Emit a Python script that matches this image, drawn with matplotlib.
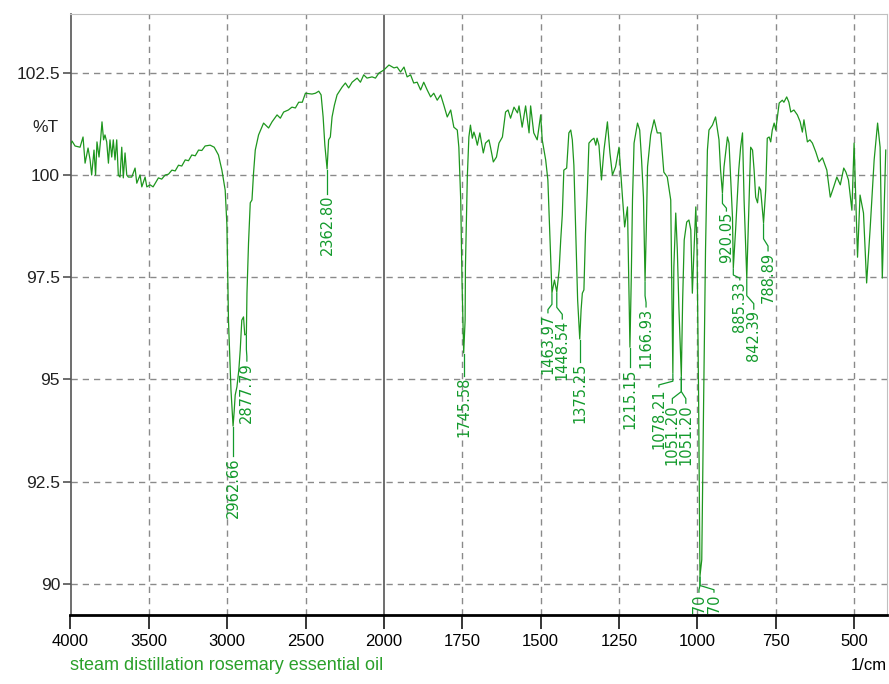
import numpy as np
import matplotlib
matplotlib.use("Agg")
import matplotlib.pyplot as plt
from matplotlib import font_manager
from matplotlib.font_manager import FontProperties
from matplotlib.transforms import IdentityTransform

# ---------------- data ----------------
wavenumber = [
    4000, 3990, 3971, 3939, 3920, 3907, 3888, 3875, 3865, 3850, 3840, 3831, 3818, 3808, 3799,
    3789, 3780, 3769, 3758, 3748, 3737, 3727, 3716, 3705, 3695, 3684, 3673, 3663, 3652, 3641,
    3631, 3609, 3588, 3577, 3556, 3545, 3524, 3513, 3492, 3473, 3439, 3418, 3396, 3375, 3353,
    3332, 3311, 3290, 3268, 3247, 3226, 3204, 3183, 3162, 3141, 3109, 3083, 3056, 3034, 3013,
    3002, 2992, 2976, 2962.66, 2956, 2949, 2938,
    2926, 2917, 2907, 2896, 2888, 2877.79, 2874, 2864, 2853, 2842, 2832, 2821, 2800, 2768, 2736,
    2714, 2682, 2661, 2640, 2610, 2587, 2565, 2544, 2521, 2501, 2459, 2437, 2416, 2401, 2388,
    2377, 2362.80, 2353, 2342, 2331, 2316, 2299, 2267, 2246, 2225, 2203, 2171, 2150, 2129, 2108,
    2076, 2054, 2033, 2000, 1984, 1968, 1958, 1947, 1936, 1926, 1915, 1905, 1894, 1883, 1873,
    1862, 1851, 1841, 1830, 1819, 1809, 1798, 1787, 1777, 1766, 1761, 1755, 1751, 1745.58, 1741,
    1740, 1734, 1729, 1724, 1718, 1713, 1708, 1702, 1694, 1683, 1676, 1665, 1660, 1651, 1641,
    1633, 1622, 1612, 1604, 1596, 1585, 1574, 1569, 1559, 1548, 1537, 1532, 1522, 1511, 1500,
    1495, 1484, 1477, 1473, 1468, 1463.97, 1456, 1448.54, 1441, 1436, 1431, 1426, 1417, 1410, 1404,
    1399, 1394, 1388, 1382, 1375.25, 1371, 1367, 1362, 1357, 1351, 1346, 1337, 1330, 1324, 1320,
    1314, 1306, 1298, 1287, 1279, 1271, 1261, 1250, 1239, 1232, 1223, 1219, 1215.15, 1211, 1207,
    1202, 1191, 1184, 1178, 1172, 1166.93, 1163, 1159, 1149, 1138, 1128, 1117, 1107, 1096, 1085,
    1078.21, 1075, 1069, 1064, 1059, 1051.20, 1047, 1042, 1034, 1027, 1021, 1016, 1012, 1005, 1001,
    996, 991.70, 986, 980, 974, 968, 963, 952, 942, 931, 926, 920.05, 915, 904, 899,
    888, 885.33, 878, 868, 862, 856, 851, 842.39, 835, 830, 824, 819, 814, 808, 803,
    798, 788.89, 782, 777, 771, 766, 761, 755, 750, 739, 729, 724, 715, 708, 702,
    692, 681, 672, 665, 660, 649, 641, 633, 622, 612, 601, 587, 576, 565, 555,
    544, 533, 526, 518, 507, 500, 489, 481, 470, 460, 449, 441, 436, 425, 417,
    410, 399,
]
transmittance = [
    100.73, 100.83, 100.71, 100.68, 100.93, 100.29, 100.66, 100.37, 100.00, 100.61, 100.00, 100.81, 100.44, 100.86, 101.30,
    100.86, 100.98, 100.81, 100.29, 100.86, 100.44, 100.86, 100.37, 100.86, 100.00, 99.95, 100.68, 99.93, 100.54, 100.00,
    99.95, 99.95, 100.17, 99.80, 100.00, 99.71, 99.95, 99.71, 99.76, 99.71, 99.93, 99.90, 100.00, 100.02, 100.12,
    100.10, 100.24, 100.22, 100.37, 100.35, 100.49, 100.47, 100.61, 100.60, 100.71, 100.73, 100.68, 100.49, 100.12, 99.63,
    98.78, 96.45, 94.74, 93.86, 94.20, 94.62, 94.82,
    95.23, 95.72, 96.45, 96.53, 96.09, 96.11, 97.11, 98.34, 99.32, 99.39, 100.05, 100.61, 100.98, 101.27, 101.15,
    101.30, 101.47, 101.39, 101.54, 101.59, 101.66, 101.64, 101.78, 101.78, 102.00, 101.98, 102.00, 102.05, 101.96, 101.42,
    100.73, 100.15, 100.86, 100.93, 101.42, 101.71, 101.96, 102.15, 102.25, 102.13, 102.27, 102.37, 102.27, 102.45, 102.37,
    102.40, 102.37, 102.49, 102.57, 102.69, 102.62, 102.64, 102.52, 102.64, 102.40, 102.45, 102.25, 102.27, 102.08, 102.27,
    102.08, 101.91, 102.00, 101.83, 101.96, 101.71, 101.42, 101.59, 101.17, 101.10, 100.68, 99.39, 97.43, 95.65, 96.45,
    97.75, 99.95, 100.93, 101.22, 100.90, 101.05, 100.93, 100.73, 101.03, 100.54, 100.78, 100.86, 100.68, 100.32, 100.44,
    100.78, 100.93, 101.54, 101.59, 101.39, 101.66, 101.52, 101.69, 101.17, 101.69, 101.03, 101.69, 101.03, 100.86, 101.47,
    100.86, 100.37, 99.88, 99.02, 97.92, 97.12, 97.43, 97.14, 97.68, 98.41, 99.02, 100.12, 100.17, 101.03, 101.10,
    100.86, 100.24, 98.58, 96.94, 95.99, 96.70, 97.11, 97.19, 98.58, 99.63, 100.78, 100.86, 100.90, 100.73, 100.90,
    100.73, 99.88, 100.61, 101.30, 100.54, 100.00, 100.20, 100.68, 99.46, 98.73, 99.22, 97.43, 95.79, 97.43, 99.39,
    100.78, 101.27, 101.10, 100.37, 99.46, 97.41, 98.66, 100.20, 100.98, 101.35, 101.03, 101.03, 100.07, 99.95, 99.39,
    95.16, 97.75, 99.07, 98.17, 96.77, 95.08, 96.94, 98.41, 98.85, 98.90, 98.66, 97.11, 97.92, 99.22, 98.17,
    94.50, 90.19, 90.59, 94.50, 98.17, 100.61, 101.10, 101.22, 101.42, 100.86, 100.12, 99.56, 100.20, 100.93, 100.78,
    98.97, 97.73, 98.66, 100.12, 100.68, 101.03, 99.39, 97.48, 99.39, 100.68, 100.61, 100.12, 99.46, 99.32, 99.71,
    99.63, 98.83, 99.63, 100.90, 100.93, 100.81, 101.10, 101.27, 101.10, 101.76, 101.83, 101.78, 101.91, 101.78, 101.54,
    101.59, 101.47, 101.30, 101.05, 101.35, 100.81, 100.86, 100.78, 100.56, 100.32, 100.42, 100.12, 99.46, 99.71, 99.95,
    99.76, 100.17, 100.07, 99.88, 99.14, 100.78, 97.99, 99.51, 99.07, 97.36, 98.66, 99.71, 100.37, 101.27, 100.68,
    97.48, 100.61,
]

peak_wn = [2962.66, 2877.79, 2362.80, 1745.58, 1463.97, 1448.54, 1375.25, 1215.15, 1166.93,
           1078.21, 1051.20, 1051.20, 991.70, 991.70, 920.05, 885.33, 842.39, 788.89]
peak_T = [93.86, 96.11, 100.15, 95.65, 97.12, 97.14, 95.99, 95.79, 97.41,
          95.16, 95.08, 95.08, 90.19, 90.19, 99.56, 97.73, 97.48, 98.83]
peak_text = ["2962.66", "2877.79", "2362.80", "1745.58", "1463.97", "1448.54", "1375.25",
             "1215.15", "1166.93", "1078.21", "1051.20", "1051.20", ".70", ".70", "920.05",
             "885.33", "842.39", "788.89"]

x_ticks = [4000, 3500, 3000, 2500, 2000, 1750, 1500, 1250, 1000, 750, 500]
y_ticks = [90, 92.5, 95, 97.5, 100, 102.5]
y_tick_labels = ["90", "92.5", "95", "97.5", "100", "102.5"]

# label layout (pixel offsets from the peak: dx, gap below)
label_dx = [0, 0.5, 0, 0, -4, 5.5, 0, 0, 1, -14, -9, 4.5, -1, 14, 4, 6.5, 7, 4.5]
label_gap = [31, 28, 26, 24, 21, 28, 24, 21, 27, 15, 28, 28, 17, 17, 19, 13, 32, 29]

# ---------------- fonts ----------------
names = {f.name for f in font_manager.fontManager.ttflist}
regular = "Liberation Sans" if "Liberation Sans" in names else "DejaVu Sans"
if "Liberation Sans Narrow" in names:
    narrow_fp = FontProperties(family="Liberation Sans Narrow", size=13)
    caption_fp = FontProperties(family="Liberation Sans Narrow", size=14)
else:
    narrow_fp = FontProperties(family=regular, size=12)
    caption_fp = FontProperties(family=regular, size=13)

GREEN_LINE = "#1e961e"
GREEN_TEXT = "#139a2c"

# ---------------- figure ----------------
W, H = 889, 684
fig = plt.figure(figsize=(W / 100, H / 100), dpi=100)
fig.patch.set_facecolor("white")
ax = fig.add_axes([70.5 / W, (H - 615) / H, 816.5 / W, 601.5 / H])


def fwd(w):
    w = np.asarray(w, dtype=float)
    return np.where(w > 2000, 2000 + (w - 2000) * 0.5, w)


def inv(u):
    u = np.asarray(u, dtype=float)
    return np.where(u > 2000, 2000 + (u - 2000) * 2.0, u)


ax.set_xscale("function", functions=(fwd, inv))
ax.set_xlim(4000, 395)
ax.set_ylim(89.24, 103.95)

# grid
for xv in x_ticks:
    if xv == 2000:
        ax.axvline(xv, color="#555555", lw=1.2, zorder=1)
    elif xv != 4000:
        ax.axvline(xv, color="#8a8a8a", lw=1.0, dashes=(4.5, 3.6), zorder=1)
for yv in y_ticks:
    ax.axhline(yv, color="#8a8a8a", lw=1.0, dashes=(4.5, 3.6), zorder=1)

# spectrum
ax.plot(wavenumber, transmittance, color=GREEN_LINE, lw=0.9, zorder=3)

# ticks
ax.set_xticks(x_ticks)
ax.set_xticklabels([str(v) for v in x_ticks], fontproperties=narrow_fp)
ax.xaxis.set_minor_locator(matplotlib.ticker.NullLocator())
ax.set_yticks(y_ticks)
ax.set_yticklabels(y_tick_labels, fontfamily=regular, fontsize=12.5, color="#222222")
ax.tick_params(axis="x", direction="out", length=10, width=1.1, pad=3.5, colors="black")
ax.tick_params(axis="y", direction="out", length=6, width=1.1, pad=1.5, color="#444444")

for side in ("top", "right"):
    ax.spines[side].set_color("#c0c0c0")
    ax.spines[side].set_linewidth(0.8)
ax.spines["left"].set_color("#555555")
ax.spines["left"].set_linewidth(1.2)
ax.spines["bottom"].set_color("black")
ax.spines["bottom"].set_linewidth(2.0)

# peak labels with leaders (drawn in pixel space)
ident = IdentityTransform()
for wn, tv, txt, dx, gap in zip(peak_wn, peak_T, peak_text, label_dx, label_gap):
    px, py = ax.transData.transform((wn, tv))
    if dx == 0:
        xs = [px, px]
        ys = [py - 1, py - gap + 1]
    else:
        xs = [px, px, px + dx, px + dx]
        ys = [py - 1, py - gap * 0.55, py - gap * 0.8, py - gap + 1]
    ax.add_line(matplotlib.lines.Line2D(xs, ys, transform=ident, color=GREEN_TEXT, lw=0.9,
                                        zorder=4, clip_on=True))
    ax.text(px + dx, py - gap, txt, transform=ident, rotation=90, ha="center",
            va="top", fontsize=10.5, color=GREEN_TEXT, family="DejaVu Sans", zorder=5,
            clip_on=True)

# extra texts
fig.text(45 / W, 1 - 127 / H, "%T", ha="center", va="center", fontsize=12.5,
         family=regular, color="#222222")
fig.text(887 / W, 1 - 666 / H, "1/cm", ha="right", va="center", fontproperties=narrow_fp,
         color="black")
fig.text(70 / W, 1 - 666 / H, "steam distillation rosemary essential oil", ha="left",
         va="center", fontproperties=caption_fp, color="#2aa02a")

fig.savefig("out.png", dpi=100)
